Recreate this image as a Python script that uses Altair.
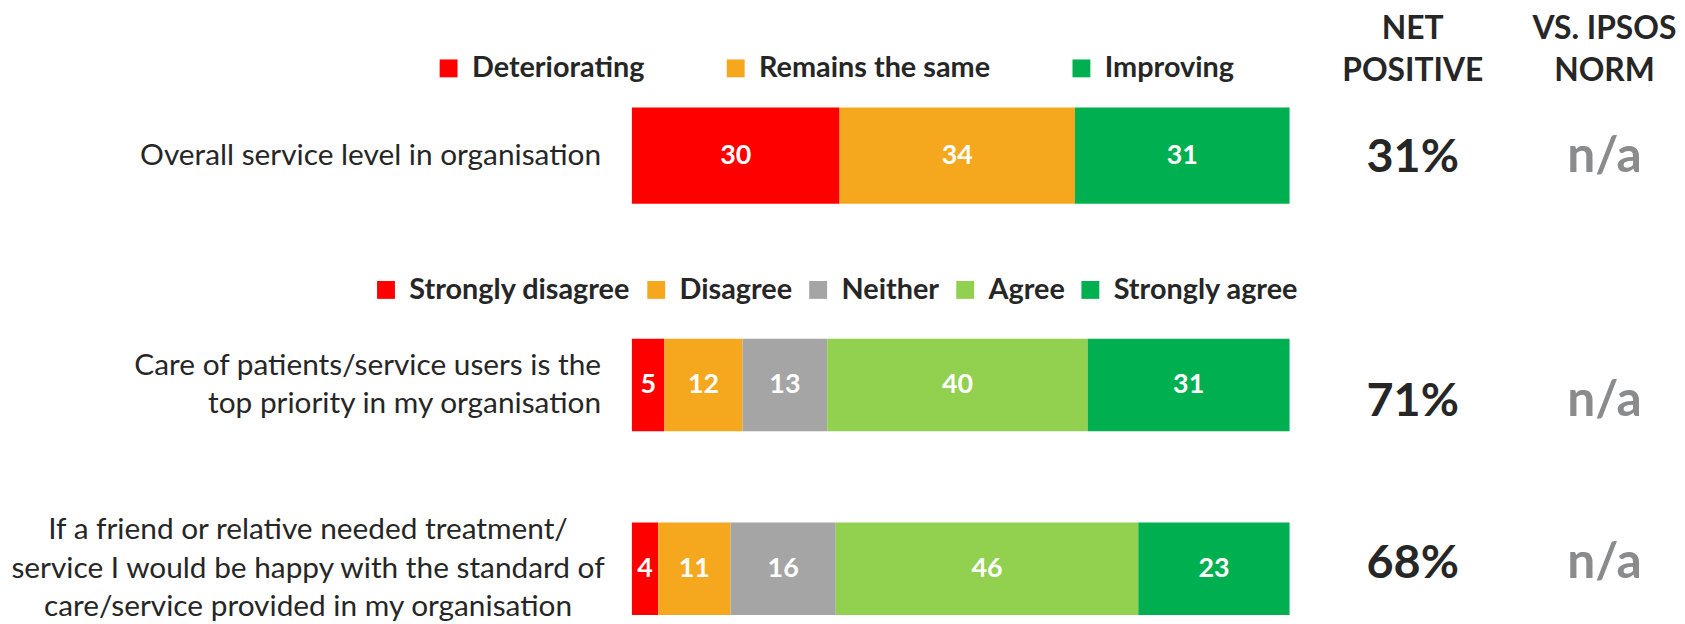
import altair as alt
import pandas as pd

FONT = "Lato"
DARK = "#262626"
GREY_TXT = "#898B8D"

# ---- data ----
q1_rows = ["q1"]
q1_labels = ["Overall service level in organisation"]
q1_cats = ["Deteriorating", "Remains the same", "Improving"]
q1_colors = ["#FF0000", "#F5A81E", "#00B050"]
q1_values = [30, 34, 31]
q1_net = ["31%"]
q1_norm = ["n/a"]

q2_rows = ["q2", "q3"]
q2_labels = [
    "Care of patients/service users is the\ntop priority in my organisation",
    "If a friend or relative needed treatment/\nservice I would be happy with the standard of\ncare/service provided in my organisation",
]
q2_cats = ["Strongly disagree", "Disagree", "Neither", "Agree", "Strongly agree"]
q2_colors = ["#FF0000", "#F5A81E", "#A5A5A5", "#92D050", "#00B050"]
q2_values_care = [5, 12, 13, 40, 31]
q2_values_friend = [4, 11, 16, 46, 23]
q2_net = ["71%", "68%"]
q2_norm = ["n/a", "n/a"]

headers = ["NET\nPOSITIVE", "VS. IPSOS\nNORM"]

PLOT_W = 662
NET_X = 786
NORM_X = 979
LAB_SIZE = 30
LAB_LH = 39


def long_df(rows, cats, value_lists):
    recs = []
    for r, vals in zip(rows, value_lists):
        for i, (c, v) in enumerate(zip(cats, vals)):
            recs.append({"row": r, "cat": c, "val": v, "order": i})
    return pd.DataFrame(recs)


def bar_layers(df, rows, cats, colors, yscale, legend):
    yenc = alt.Y("row:N", axis=None, sort=rows, scale=yscale)
    base = (
        alt.Chart(df)
        .transform_stack(
            stack="val", groupby=["row"], as_=["x0", "x1"],
            sort=[alt.SortField("order", "ascending")], offset="normalize",
        )
        .transform_calculate(mid="(datum.x0 + datum.x1) / 2")
    )
    xsc = alt.Scale(domain=[0, 1], nice=False, zero=False)
    bars = base.mark_bar().encode(
        x=alt.X("x0:Q", axis=None, scale=xsc),
        x2="x1:Q",
        y=yenc,
        color=alt.Color("cat:N", scale=alt.Scale(domain=cats, range=colors), legend=legend),
    )
    vals = base.mark_text(font=FONT, fontSize=27, fontWeight="bold", color="white").encode(
        x=alt.X("mid:Q", scale=xsc),
        y=yenc,
        text="val:Q",
    )
    return bars, vals, yenc


def legend_for(lx, ly, colpad):
    return alt.Legend(
        orient="none", legendX=lx, legendY=ly, direction="horizontal", title=None,
        symbolType="square", symbolSize=324, symbolStrokeWidth=0, symbolOpacity=1,
        labelFont=FONT, labelFontSize=29, labelFontWeight="bold", labelColor=DARK,
        labelOffset=9, columnPadding=colpad, padding=0, labelLimit=600,
    )


def label_mark(align, nlines):
    return dict(
        font=FONT, fontSize=LAB_SIZE, color=DARK, align=align, baseline="middle",
        lineBreak="\n", lineHeight=LAB_LH, dy=-(nlines - 1) * LAB_LH / 2,
    )


# ---- panel A ----
dfA = long_df(q1_rows, q1_cats, [q1_values])
yA = alt.Scale(domain=q1_rows, paddingInner=0, paddingOuter=0)
barsA, valsA, yencA = bar_layers(dfA, q1_rows, q1_cats, q1_colors, yA, legend_for(-199, -54, 77))

infoA = pd.DataFrame({"row": q1_rows, "label": q1_labels, "net": q1_net, "norm": q1_norm})
labA = alt.Chart(infoA).mark_text(**label_mark("right", 1)).encode(
    x=alt.value(-31), y=yencA, text="label:N"
)
netA = alt.Chart(infoA).mark_text(
    font=FONT, fontSize=47, fontWeight="bold", color=DARK, align="center", baseline="alphabetic", dy=17
).encode(x=alt.value(NET_X), y=yencA, text="net:N")
normA = alt.Chart(infoA).mark_text(
    font=FONT, fontSize=50, fontWeight="bold", color=GREY_TXT, align="center", baseline="alphabetic", dy=17
).encode(x=alt.value(NORM_X), y=yencA, text="norm:N")

hdr = pd.DataFrame({"h": headers})
hdr_layers = []
for h, hx in zip(headers, [NET_X, NORM_X]):
    hdr_layers.append(
        alt.Chart(hdr).transform_filter(alt.datum.h == h).mark_text(
            font=FONT, fontSize=32, fontWeight="bold", color=DARK, align="center", baseline="middle",
            lineBreak="\n", lineHeight=42
        ).encode(x=alt.value(hx), y=alt.value(-79), text="h:N")
    )

panelA = alt.layer(barsA, valsA, labA, netA, normA, *hdr_layers).properties(
    width=PLOT_W, height=97
)

# ---- panel B ----
dfB = long_df(q2_rows, q2_cats, [q2_values_care, q2_values_friend])
yB = alt.Scale(domain=q2_rows, paddingInner=0.497, paddingOuter=0)
barsB, valsB, yencB = bar_layers(dfB, q2_rows, q2_cats, q2_colors, yB, legend_for(-262, -64, 11))

infoB = pd.DataFrame({"row": q2_rows, "label": q2_labels, "net": q2_net, "norm": q2_norm})
labB1 = alt.Chart(infoB).transform_filter(alt.datum.row == q2_rows[0]).mark_text(
    **label_mark("right", 2)
).encode(x=alt.value(-31), y=yencB, text="label:N")
labB2 = alt.Chart(infoB).transform_filter(alt.datum.row == q2_rows[1]).mark_text(
    **label_mark("center", 3)
).encode(x=alt.value(-326), y=yencB, text="label:N")

row_dy = {"q2": 31, "q3": 9}
rightB = []
for r in q2_rows:
    sub = alt.Chart(infoB).transform_filter(alt.datum.row == r)
    rightB.append(sub.mark_text(
        font=FONT, fontSize=47, fontWeight="bold", color=DARK, align="center",
        baseline="alphabetic", dy=row_dy[r]
    ).encode(x=alt.value(NET_X), y=yencB, text="net:N"))
    rightB.append(sub.mark_text(
        font=FONT, fontSize=50, fontWeight="bold", color=GREY_TXT, align="center",
        baseline="alphabetic", dy=row_dy[r]
    ).encode(x=alt.value(NORM_X), y=yencB, text="norm:N"))

panelB = alt.layer(barsB, valsB, labB1, labB2, *rightB).properties(width=PLOT_W, height=278)

chart = (
    alt.vconcat(panelA, panelB, spacing=72)
    .resolve_scale(color="independent", x="independent", y="independent")
    .properties(padding={"left": 2, "top": 3, "right": 0, "bottom": 0}, background="white")
    .configure_view(stroke=None)
)

chart.save("out.html", embed_options={"renderer": "svg", "actions": False})
